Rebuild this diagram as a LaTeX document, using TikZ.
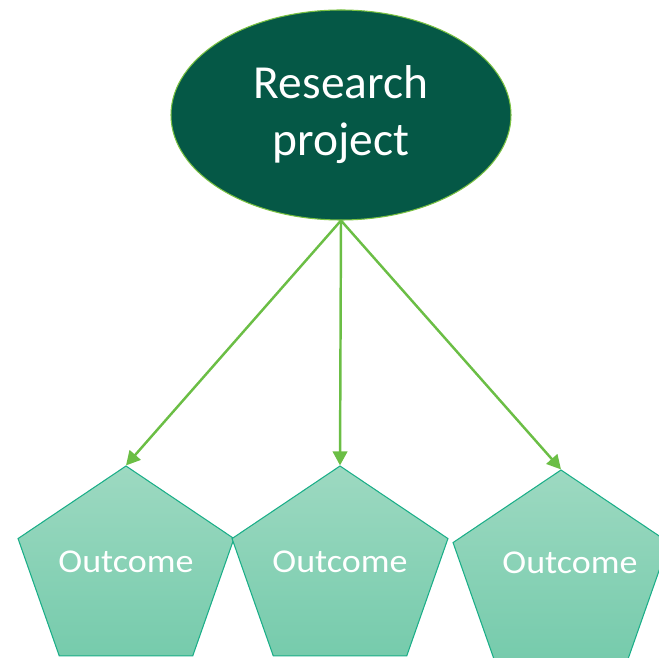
\documentclass[tikz,border=0pt]{standalone}
\usepackage{fontspec}
\setmainfont{Carlito}
\usetikzlibrary{shapes.geometric}
\usetikzlibrary{arrows.meta,positioning}

\definecolor{projfill}{RGB}{5,88,70}
\definecolor{projline}{RGB}{122,193,66}
\definecolor{arrowgreen}{RGB}{107,190,69}
\definecolor{outtop}{RGB}{157,217,193}
\definecolor{outbot}{RGB}{118,203,172}
\definecolor{outline}{RGB}{26,174,136}

\begin{document}
\begin{tikzpicture}[x=0.2mm, y=-0.2mm, >={Triangle[length=2.8mm,width=2.9mm]}]
		 \tikzstyle{project} = [ellipse, draw=projline, line width=0.6pt, fill=projfill,
		                        minimum width=68mm, minimum height=42mm, inner sep=0pt,
		                        text=white, align=center, font=\fontsize{27}{32.4}\selectfont];
		 \tikzstyle{outcome} = [regular polygon, regular polygon sides=5, minimum size=45.4mm,
		                        inner sep=-5mm, yscale=0.925, draw=outline, line width=0.6pt,
		                        top color=outtop, bottom color=outbot, text=white,
		                        text height=2mm, text depth=1.14mm, font=\fontsize{20.5}{24}\selectfont];

		 \useasboundingbox (0,0) rectangle (659,658);

		 \node [project] (P)  at (341,115) {Research\\project};
		 \node [outcome] (O1) at (126,571) {Outcome};
		 \node [outcome] (O2) at (340,571) {Outcome};
		 \node [outcome, text depth=2.86mm] (O3) at (561,575) {\hspace*{3.6mm}Outcome};

 		\path [->, color=arrowgreen, line width=1.4pt]
 		         (P.south) edge (O1.corner 1)
 		                   edge (O2.corner 1)
 		                   edge (O3.corner 1);
	\end{tikzpicture}
\end{document}
